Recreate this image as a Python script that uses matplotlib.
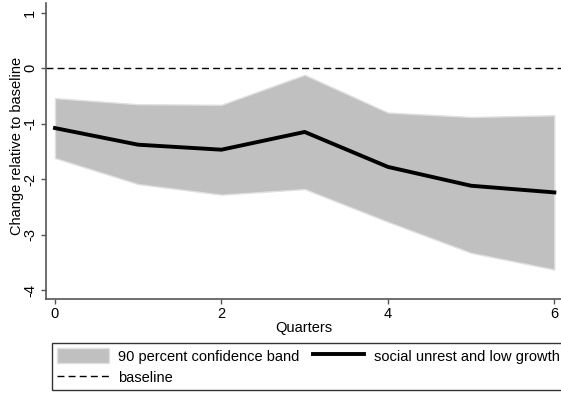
import matplotlib
matplotlib.use('Agg')
import matplotlib.pyplot as plt
from matplotlib.patches import Patch
from matplotlib.lines import Line2D

plt.rcParams['font.family'] = ['Liberation Sans', 'DejaVu Sans']

# Impulse response of the scenario and its 90% band
quarters = [0, 1, 2, 3, 4, 5, 6]
response = [-1.08, -1.38, -1.47, -1.15, -1.78, -2.12, -2.24]
upper = [-0.54, -0.65, -0.66, -0.12, -0.80, -0.88, -0.85]
lower = [-1.62, -2.09, -2.28, -2.18, -2.77, -3.33, -3.63]
baseline = 0
xticks = [0, 2, 4, 6]
yticks = [1, 0, -1, -2, -3, -4]

fig = plt.figure(figsize=(5.61, 3.96), dpi=100)
W, H = 561, 396
ax = fig.add_axes([46 / W, 1 - 299 / H, (561 - 46) / W, (299 - 3) / H])

ax.fill_between(quarters, lower, upper, facecolor='#c0c0c0',
                edgecolor='#e0e0e0', linewidth=1)
ax.plot(quarters, response, color='black', linewidth=2.8)
ax.axhline(baseline, color='black', linestyle=(0, (5, 3)), linewidth=1)

ax.set_xlim(-0.108, 6.08)
ax.set_ylim(-4.162, 1.175)
ax.set_xticks(xticks)
ax.set_yticks(yticks)
ax.set_yticklabels([str(t) for t in yticks], rotation=90,
                   rotation_mode='anchor', ha='center', va='baseline')
ax.tick_params(labelsize=10.5, length=3.5, width=1, color='#555555', direction='out')
ax.tick_params(axis='x', pad=2.5)
ax.tick_params(axis='y', pad=5)

for side in ['top', 'right']:
    ax.spines[side].set_visible(False)
for side in ['left', 'bottom']:
    ax.spines[side].set_color('#555555')
    ax.spines[side].set_linewidth(1.2)

ax.set_xlabel('Quarters', fontsize=10.5, labelpad=0)
ax.set_ylabel('Change relative to baseline', fontsize=10.5)
ax.yaxis.label.set_va('baseline')
ax.yaxis.set_label_coords(-25 / 515, (299 - 146) / 296)

handles = [
    Patch(facecolor='#c0c0c0', edgecolor='#e0e0e0', label='90 percent confidence band'),
    Line2D([], [], color='black', linestyle=(0, (5, 3)), linewidth=1, label='baseline'),
    Line2D([], [], color='black', linewidth=2.8, label='social unrest and low growth'),
]
leg = fig.legend(handles=handles, ncol=2, loc='upper left',
                 bbox_to_anchor=(52 / W, 1 - 343 / H),
                 fontsize=10.5, frameon=True, fancybox=False,
                 handlelength=3.56, handleheight=1.2, handletextpad=0.62,
                 columnspacing=0.9, labelspacing=0.4, borderpad=0.35,
                 borderaxespad=0)
leg.get_frame().set_edgecolor('black')
leg.get_frame().set_linewidth(1)

fig.savefig('out.png', dpi=100)
